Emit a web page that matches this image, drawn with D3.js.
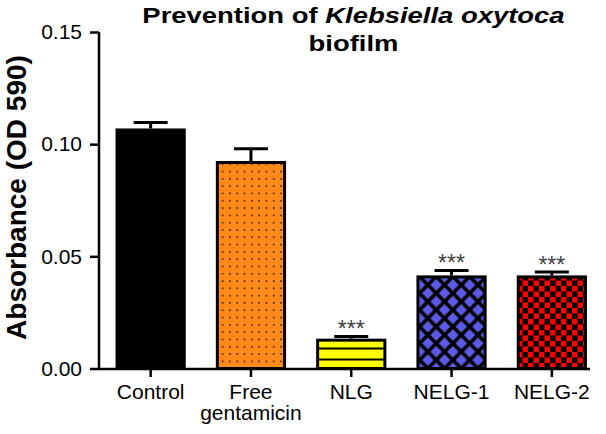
<!DOCTYPE html>
<html><head><meta charset="utf-8">
<script src="https://cdn.jsdelivr.net/npm/d3@7"></script>
<style>body{margin:0;background:#fff}svg{display:block;font-family:"Liberation Sans",Arial,sans-serif}</style>
</head><body><svg id="c" width="606" height="434"></svg>
<script>
const categories = ["Control", "Free gentamicin", "NLG", "NELG-1", "NELG-2"];
const labelLines = [["Control"], ["Free", "gentamicin"], ["NLG"], ["NELG-1"], ["NELG-2"]];
const means = [0.107, 0.0925, 0.0133, 0.0415, 0.0415];
const errors = [0.0027, 0.0055, 0.0010, 0.0022, 0.0015];
const significance = ["", "", "***", "***", "***"];
const yTicks = [0.00, 0.05, 0.10, 0.15];
const fills = ["#000000", "url(#pDots)", "url(#pStripes)", "url(#pDiamond)", "url(#pCheck)"];

const svg = d3.select("#c");
const defs = svg.append("defs");
// orange dots
let p = defs.append("pattern").attr("id","pDots").attr("patternUnits","userSpaceOnUse").attr("width",7.3).attr("height",7.3);
p.append("rect").attr("width",7.3).attr("height",7.3).attr("fill","#FF8A1A");
p.append("circle").attr("cx",3.6).attr("cy",3.6).attr("r",0.95).attr("fill","#4a2000");
// yellow stripes
p = defs.append("pattern").attr("id","pStripes").attr("patternUnits","userSpaceOnUse").attr("width",10).attr("height",11).attr("y",8.5);
p.append("rect").attr("width",10).attr("height",11).attr("fill","#FFFF00");
p.append("rect").attr("y",9).attr("width",10).attr("height",2).attr("fill","#000");
// blue diamonds
p = defs.append("pattern").attr("id","pDiamond").attr("patternUnits","userSpaceOnUse").attr("width",16.7).attr("height",16.7).attr("x",2).attr("y",1);
p.append("rect").attr("width",16.7).attr("height",16.7).attr("fill","#000");
const dm = (cx, cy, h) => `M${cx},${cy-h}L${cx+h},${cy}L${cx},${cy+h}L${cx-h},${cy}Z`;
p.append("path").attr("d", dm(8.35,8.35,5.8) + dm(0,0,5.8) + dm(16.7,0,5.8) + dm(0,16.7,5.8) + dm(16.7,16.7,5.8)).attr("fill","#5A5AE6");
// red checker
p = defs.append("pattern").attr("id","pCheck").attr("patternUnits","userSpaceOnUse").attr("width",11).attr("height",11);
p.append("rect").attr("width",11).attr("height",11).attr("fill","#000");
p.append("rect").attr("width",5.5).attr("height",5.5).attr("fill","#FF0000");
p.append("rect").attr("x",5.5).attr("y",5.5).attr("width",5.5).attr("height",5.5).attr("fill","#FF0000");

const x = d3.scaleBand().domain(categories).range([100.5, 602]).paddingInner(0.3).paddingOuter(0.15);
const y = d3.scaleLinear().domain([0, 0.15]).range([368.5, 32]);

// bars
const g = svg.append("g");
categories.forEach((c, i) => {
  const bx = x(c), bw = x.bandwidth(), cx = bx + bw / 2;
  const top = y(means[i] + errors[i]);
  g.append("line").attr("x1",cx).attr("x2",cx).attr("y1",y(means[i])).attr("y2",top).attr("stroke","#000").attr("stroke-width",3);
  g.append("line").attr("x1",cx-17).attr("x2",cx+17).attr("y1",top).attr("y2",top).attr("stroke","#000").attr("stroke-width",3);
  g.append("rect").attr("x",bx+1.5).attr("y",y(means[i])+1.5).attr("width",bw-3).attr("height",y(0)-y(means[i])-1.5)
    .attr("fill",fills[i]).attr("stroke","#000").attr("stroke-width",3);
  if (significance[i]) {
    g.append("text").attr("x",cx).attr("y",top+1).attr("text-anchor","middle")
      .attr("font-size",23).attr("fill","#444").text(significance[i]);
  }
});

// y axis
const ya = svg.append("g").attr("transform","translate(99,0)")
  .call(d3.axisLeft(y).tickValues(yTicks).tickFormat(d3.format(".2f")).tickSize(9).tickPadding(8));
ya.select(".domain").attr("stroke-width",2.5).attr("d","M0,"+y(0.15)+"V"+(y(0)+1));
ya.selectAll(".tick line").attr("stroke-width",2.5);
ya.selectAll("text").attr("font-size",21).attr("fill","#000");

// x axis
const xa = svg.append("g").attr("transform","translate(0,369)")
  .call(d3.axisBottom(x).tickSize(8).tickFormat(""));
xa.select(".domain").attr("stroke-width",2.5).attr("d","M98,0H590");
xa.selectAll(".tick line").attr("stroke-width",2.5);
categories.forEach((c, i) => {
  labelLines[i].forEach((t, j) => {
    svg.append("text").attr("x",x(c)+x.bandwidth()/2).attr("y",399+j*21).attr("text-anchor","middle")
      .attr("font-size",21).attr("fill","#000").text(t);
  });
});

// y label
svg.append("text").attr("transform","translate(26,197.5) rotate(-90)").attr("text-anchor","middle")
  .attr("font-size",28).attr("font-weight","bold").attr("fill","#000").text("Absorbance (OD 590)");

// title (glyphs slightly wide in the reference)
const t1 = svg.append("text").attr("transform","translate(353.5,23) scale(1.22,1)").attr("text-anchor","middle")
  .attr("font-size",22.5).attr("font-weight","bold").attr("fill","#000");
t1.append("tspan").text("Prevention of ");
t1.append("tspan").attr("font-style","italic").text("Klebsiella oxytoca");
svg.append("text").attr("transform","translate(353.5,51) scale(1.22,1)").attr("text-anchor","middle")
  .attr("font-size",22.5).attr("font-weight","bold").attr("fill","#000").text("biofilm");
</script></body></html>
